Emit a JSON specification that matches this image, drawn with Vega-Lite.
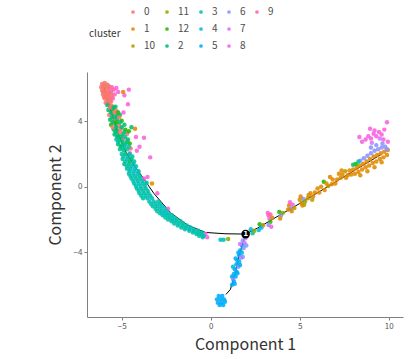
{
  "$schema": "https://vega.github.io/schema/vega-lite/v6.json",
  "width": 316,
  "height": 245,
  "autosize": {"type": "none"},
  "padding": {"left": 87, "top": 72, "right": 14, "bottom": 42},
  "background": "white",
  "config": {
    "view": {"stroke": null},
    "font": "Noto Sans CJK JP",
    "axis": {
      "grid": false,
      "domainColor": "#808080",
      "domainWidth": 1,
      "tickColor": "#808080",
      "tickSize": 3,
      "labelColor": "#555555",
      "labelFontSize": 8,
      "labelFont": "Noto Sans CJK JP",
      "titleFont": "Noto Sans CJK JP",
      "titleFontSize": 16,
      "titleFontWeight": "normal",
      "titleColor": "#333333"
    },
    "legend": {
      "labelFont": "Noto Sans CJK JP",
      "titleFont": "Noto Sans CJK JP"
    }
  },
  "datasets": {
    "tree": [
      {"x": -6.0, "y": 6.1, "seg": "a", "o": 1},
      {"x": -5.65, "y": 4.8, "seg": "a", "o": 2},
      {"x": -5.25, "y": 3.4, "seg": "a", "o": 3},
      {"x": -4.75, "y": 2.1, "seg": "a", "o": 4},
      {"x": -4.3, "y": 1.3, "seg": "a", "o": 5},
      {"x": -3.9, "y": 0.7, "seg": "a", "o": 6},
      {"x": -3.2, "y": -0.4, "seg": "a", "o": 7},
      {"x": -2.25, "y": -1.6, "seg": "a", "o": 8},
      {"x": -1.3, "y": -2.35, "seg": "a", "o": 9},
      {"x": -0.3, "y": -2.8, "seg": "a", "o": 10},
      {"x": 0.8, "y": -2.88, "seg": "a", "o": 11},
      {"x": 1.96, "y": -2.9, "seg": "a", "o": 12},
      {"x": 1.96, "y": -2.9, "seg": "b", "o": 1},
      {"x": 2.63, "y": -2.53, "seg": "b", "o": 2},
      {"x": 5.04, "y": -1.0, "seg": "b", "o": 3},
      {"x": 7.83, "y": 0.84, "seg": "b", "o": 4},
      {"x": 9.6, "y": 2.0, "seg": "b", "o": 5},
      {"x": 1.96, "y": -2.9, "seg": "c", "o": 1},
      {"x": 1.6, "y": -4.2, "seg": "c", "o": 2},
      {"x": 1.3, "y": -5.6, "seg": "c", "o": 3},
      {"x": 1.1, "y": -6.3, "seg": "c", "o": 4},
      {"x": 0.85, "y": -6.6, "seg": "c", "o": 5}
    ],
    "node": [{"x": 1.96, "y": -2.9, "label": "1"}],
    "cells": [
      {"x": -6.1, "y": 6.3, "cluster": "0"}, {"x": -5.95, "y": 6.35, "cluster": "0"}, {"x": -5.8, "y": 6.25, "cluster": "0"},
      {"x": -6.15, "y": 6.1, "cluster": "0"}, {"x": -6.0, "y": 6.1, "cluster": "0"}, {"x": -5.85, "y": 6.05, "cluster": "0"},
      {"x": -5.7, "y": 6.0, "cluster": "0"}, {"x": -6.1, "y": 5.9, "cluster": "0"}, {"x": -5.95, "y": 5.85, "cluster": "0"},
      {"x": -5.8, "y": 5.8, "cluster": "0"}, {"x": -6.05, "y": 5.65, "cluster": "0"}, {"x": -5.9, "y": 5.6, "cluster": "0"},
      {"x": -5.75, "y": 5.55, "cluster": "0"}, {"x": -5.6, "y": 5.7, "cluster": "0"}, {"x": -5.95, "y": 5.4, "cluster": "0"},
      {"x": -5.8, "y": 5.35, "cluster": "0"}, {"x": -5.65, "y": 5.3, "cluster": "0"}, {"x": -5.9, "y": 5.15, "cluster": "0"},
      {"x": -5.7, "y": 5.05, "cluster": "0"}, {"x": -5.55, "y": 5.5, "cluster": "0"},
      {"x": -6.0, "y": 6.2, "cluster": "0"}, {"x": -5.85, "y": 6.15, "cluster": "0"}, {"x": -5.7, "y": 6.15, "cluster": "0"},
      {"x": -6.05, "y": 5.8, "cluster": "0"}, {"x": -5.85, "y": 5.7, "cluster": "0"}, {"x": -5.7, "y": 5.75, "cluster": "0"},
      {"x": -6.0, "y": 5.5, "cluster": "0"}, {"x": -5.85, "y": 5.5, "cluster": "0"}, {"x": -5.7, "y": 5.45, "cluster": "0"},
      {"x": -5.8, "y": 5.2, "cluster": "0"}, {"x": -5.6, "y": 5.2, "cluster": "0"},
      {"x": -5.55, "y": 6.1, "cluster": "9"}, {"x": -5.45, "y": 5.95, "cluster": "9"}, {"x": -5.6, "y": 5.85, "cluster": "9"},
      {"x": -5.5, "y": 5.4, "cluster": "9"}, {"x": -5.4, "y": 5.65, "cluster": "9"},
      {"x": -4.6, "y": 5.95, "cluster": "8"}, {"x": -4.85, "y": 5.6, "cluster": "8"}, {"x": -4.65, "y": 5.05, "cluster": "8"},
      {"x": -4.9, "y": 4.55, "cluster": "8"}, {"x": -4.2, "y": 3.05, "cluster": "8"}, {"x": -3.75, "y": 3.0, "cluster": "8"},
      {"x": -4.0, "y": 2.45, "cluster": "8"}, {"x": -4.15, "y": 2.2, "cluster": "8"}, {"x": -3.4, "y": 1.8, "cluster": "8"},
      {"x": -4.55, "y": 2.05, "cluster": "8"}, {"x": -5.3, "y": 6.05, "cluster": "8"}, {"x": -5.2, "y": 5.8, "cluster": "8"},
      {"x": -4.92, "y": 5.8, "cluster": "1"},
      {"x": -5.8, "y": 5.0, "cluster": "2"}, {"x": -5.55, "y": 4.95, "cluster": "0"}, {"x": -5.35, "y": 4.9, "cluster": "2"},
      {"x": -5.75, "y": 4.7, "cluster": "2"}, {"x": -5.5, "y": 4.75, "cluster": "12"}, {"x": -5.3, "y": 4.65, "cluster": "0"},
      {"x": -5.7, "y": 4.4, "cluster": "0"}, {"x": -5.5, "y": 4.45, "cluster": "2"}, {"x": -5.3, "y": 4.35, "cluster": "2"},
      {"x": -5.1, "y": 4.4, "cluster": "2"}, {"x": -5.65, "y": 4.1, "cluster": "2"}, {"x": -5.45, "y": 4.05, "cluster": "0"},
      {"x": -5.25, "y": 4.15, "cluster": "2"}, {"x": -5.0, "y": 4.05, "cluster": "12"}, {"x": -5.6, "y": 3.8, "cluster": "12"},
      {"x": -5.35, "y": 3.85, "cluster": "2"}, {"x": -5.15, "y": 3.75, "cluster": "0"}, {"x": -4.85, "y": 3.8, "cluster": "2"},
      {"x": -5.45, "y": 3.5, "cluster": "2"}, {"x": -5.25, "y": 3.45, "cluster": "2"}, {"x": -5.05, "y": 3.55, "cluster": "0"},
      {"x": -4.8, "y": 3.5, "cluster": "12"}, {"x": -5.4, "y": 3.2, "cluster": "2"}, {"x": -5.2, "y": 3.15, "cluster": "3"},
      {"x": -4.95, "y": 3.2, "cluster": "2"}, {"x": -4.7, "y": 3.25, "cluster": "0"}, {"x": -5.3, "y": 2.9, "cluster": "3"},
      {"x": -5.1, "y": 2.85, "cluster": "2"}, {"x": -4.9, "y": 2.95, "cluster": "0"}, {"x": -4.65, "y": 2.9, "cluster": "2"},
      {"x": -5.2, "y": 2.6, "cluster": "2"}, {"x": -5.0, "y": 2.55, "cluster": "3"}, {"x": -4.8, "y": 2.6, "cluster": "2"},
      {"x": -4.55, "y": 2.65, "cluster": "12"}, {"x": -5.1, "y": 2.3, "cluster": "3"}, {"x": -4.9, "y": 2.25, "cluster": "2"},
      {"x": -4.7, "y": 2.3, "cluster": "3"}, {"x": -4.5, "y": 2.35, "cluster": "0"},
      {"x": -5.65, "y": 4.85, "cluster": "0"}, {"x": -5.45, "y": 4.85, "cluster": "2"},
      {"x": -5.6, "y": 4.55, "cluster": "2"}, {"x": -5.4, "y": 4.55, "cluster": "0"}, {"x": -5.2, "y": 4.55, "cluster": "12"},
      {"x": -5.55, "y": 4.25, "cluster": "2"}, {"x": -5.35, "y": 4.25, "cluster": "2"}, {"x": -5.15, "y": 4.25, "cluster": "0"},
      {"x": -5.5, "y": 3.95, "cluster": "2"}, {"x": -5.3, "y": 3.95, "cluster": "12"}, {"x": -5.1, "y": 3.95, "cluster": "2"},
      {"x": -5.5, "y": 3.65, "cluster": "0"}, {"x": -5.3, "y": 3.65, "cluster": "2"}, {"x": -5.0, "y": 3.65, "cluster": "2"},
      {"x": -5.35, "y": 3.35, "cluster": "2"}, {"x": -5.1, "y": 3.35, "cluster": "0"}, {"x": -4.85, "y": 3.35, "cluster": "2"},
      {"x": -5.25, "y": 3.05, "cluster": "2"}, {"x": -5.05, "y": 3.05, "cluster": "2"}, {"x": -4.8, "y": 3.05, "cluster": "3"},
      {"x": -5.2, "y": 2.75, "cluster": "3"}, {"x": -4.95, "y": 2.75, "cluster": "2"}, {"x": -4.7, "y": 2.75, "cluster": "2"},
      {"x": -5.05, "y": 2.45, "cluster": "2"}, {"x": -4.85, "y": 2.45, "cluster": "3"}, {"x": -4.6, "y": 2.45, "cluster": "3"},
      {"x": -4.45, "y": 3.65, "cluster": "2"}, {"x": -4.25, "y": 3.55, "cluster": "1"}, {"x": -4.6, "y": 3.4, "cluster": "12"},
      {"x": -5.0, "y": 2.0, "cluster": "3"}, {"x": -4.8, "y": 2.0, "cluster": "2"}, {"x": -4.55, "y": 2.0, "cluster": "3"},
      {"x": -4.95, "y": 1.7, "cluster": "3"}, {"x": -4.7, "y": 1.7, "cluster": "3"}, {"x": -4.45, "y": 1.7, "cluster": "2"},
      {"x": -4.85, "y": 1.4, "cluster": "2"}, {"x": -4.6, "y": 1.4, "cluster": "3"}, {"x": -4.35, "y": 1.4, "cluster": "3"},
      {"x": -4.7, "y": 1.1, "cluster": "3"}, {"x": -4.5, "y": 1.1, "cluster": "3"}, {"x": -4.25, "y": 1.1, "cluster": "4"},
      {"x": -4.6, "y": 0.8, "cluster": "3"}, {"x": -4.35, "y": 0.8, "cluster": "3"}, {"x": -4.1, "y": 0.8, "cluster": "3"},
      {"x": -4.45, "y": 0.5, "cluster": "3"}, {"x": -4.2, "y": 0.5, "cluster": "3"}, {"x": -3.95, "y": 0.5, "cluster": "3"},
      {"x": -3.75, "y": 0.5, "cluster": "8"}, {"x": -4.3, "y": 0.2, "cluster": "3"}, {"x": -4.05, "y": 0.2, "cluster": "4"},
      {"x": -3.8, "y": 0.2, "cluster": "3"}, {"x": -4.15, "y": -0.1, "cluster": "3"}, {"x": -3.9, "y": -0.1, "cluster": "3"},
      {"x": -3.65, "y": -0.1, "cluster": "3"}, {"x": -4.0, "y": -0.4, "cluster": "3"}, {"x": -3.75, "y": -0.4, "cluster": "3"},
      {"x": -3.5, "y": -0.4, "cluster": "3"}, {"x": -3.8, "y": -0.7, "cluster": "3"}, {"x": -3.55, "y": -0.7, "cluster": "3"},
      {"x": -3.3, "y": -0.7, "cluster": "4"},
      {"x": -4.9, "y": 1.85, "cluster": "3"}, {"x": -4.65, "y": 1.85, "cluster": "3"}, {"x": -4.4, "y": 1.85, "cluster": "3"},
      {"x": -4.8, "y": 1.55, "cluster": "3"}, {"x": -4.55, "y": 1.55, "cluster": "2"}, {"x": -4.3, "y": 1.55, "cluster": "3"},
      {"x": -4.7, "y": 1.25, "cluster": "3"}, {"x": -4.45, "y": 1.25, "cluster": "3"}, {"x": -4.2, "y": 1.25, "cluster": "3"},
      {"x": -4.55, "y": 0.95, "cluster": "3"}, {"x": -4.3, "y": 0.95, "cluster": "4"}, {"x": -4.05, "y": 0.95, "cluster": "3"},
      {"x": -4.5, "y": 0.65, "cluster": "3"}, {"x": -4.25, "y": 0.65, "cluster": "3"}, {"x": -4.0, "y": 0.65, "cluster": "3"},
      {"x": -4.35, "y": 0.35, "cluster": "3"}, {"x": -4.1, "y": 0.35, "cluster": "3"}, {"x": -3.85, "y": 0.35, "cluster": "3"},
      {"x": -4.2, "y": 0.05, "cluster": "3"}, {"x": -3.95, "y": 0.05, "cluster": "3"}, {"x": -3.7, "y": 0.05, "cluster": "3"},
      {"x": -4.05, "y": -0.25, "cluster": "3"}, {"x": -3.8, "y": -0.25, "cluster": "3"}, {"x": -3.55, "y": -0.25, "cluster": "3"},
      {"x": -3.9, "y": -0.55, "cluster": "3"}, {"x": -3.65, "y": -0.55, "cluster": "3"}, {"x": -3.4, "y": -0.55, "cluster": "3"},
      {"x": -3.3, "y": 0.2, "cluster": "1"}, {"x": -3.0, "y": -0.4, "cluster": "8"}, {"x": -2.4, "y": -1.35, "cluster": "8"},
      {"x": -3.55, "y": 0.6, "cluster": "8"}, {"x": -3.6, "y": 0.25, "cluster": "3"},
      {"x": -3.45, "y": -0.9, "cluster": "3"}, {"x": -3.2, "y": -0.9, "cluster": "3"}, {"x": -2.95, "y": -0.9, "cluster": "3"},
      {"x": -3.25, "y": -1.2, "cluster": "3"}, {"x": -3.0, "y": -1.2, "cluster": "3"}, {"x": -2.75, "y": -1.2, "cluster": "4"},
      {"x": -3.0, "y": -1.5, "cluster": "3"}, {"x": -2.75, "y": -1.5, "cluster": "3"}, {"x": -2.5, "y": -1.5, "cluster": "3"},
      {"x": -2.7, "y": -1.75, "cluster": "3"}, {"x": -2.45, "y": -1.75, "cluster": "3"}, {"x": -2.2, "y": -1.75, "cluster": "3"},
      {"x": -2.4, "y": -2.0, "cluster": "3"}, {"x": -2.15, "y": -2.0, "cluster": "4"}, {"x": -1.9, "y": -2.0, "cluster": "3"},
      {"x": -2.05, "y": -2.25, "cluster": "3"}, {"x": -1.8, "y": -2.25, "cluster": "3"}, {"x": -1.55, "y": -2.25, "cluster": "3"},
      {"x": -1.65, "y": -2.5, "cluster": "3"}, {"x": -1.4, "y": -2.5, "cluster": "3"}, {"x": -1.15, "y": -2.5, "cluster": "4"},
      {"x": -1.2, "y": -2.7, "cluster": "3"}, {"x": -0.95, "y": -2.7, "cluster": "3"}, {"x": -0.7, "y": -2.7, "cluster": "3"},
      {"x": -0.8, "y": -2.9, "cluster": "3"}, {"x": -0.55, "y": -2.9, "cluster": "3"}, {"x": -0.3, "y": -2.9, "cluster": "8"},
      {"x": -0.45, "y": -3.1, "cluster": "3"}, {"x": -0.2, "y": -3.1, "cluster": "8"},
      {"x": -3.35, "y": -1.05, "cluster": "3"}, {"x": -3.1, "y": -1.05, "cluster": "3"}, {"x": -2.85, "y": -1.05, "cluster": "3"},
      {"x": -3.1, "y": -1.35, "cluster": "3"}, {"x": -2.85, "y": -1.35, "cluster": "3"}, {"x": -2.6, "y": -1.35, "cluster": "3"},
      {"x": -2.85, "y": -1.62, "cluster": "3"}, {"x": -2.6, "y": -1.62, "cluster": "4"}, {"x": -2.35, "y": -1.62, "cluster": "3"},
      {"x": -2.55, "y": -1.88, "cluster": "3"}, {"x": -2.3, "y": -1.88, "cluster": "3"}, {"x": -2.05, "y": -1.88, "cluster": "3"},
      {"x": -2.2, "y": -2.12, "cluster": "3"}, {"x": -1.95, "y": -2.12, "cluster": "3"}, {"x": -1.7, "y": -2.12, "cluster": "3"},
      {"x": -1.85, "y": -2.38, "cluster": "3"}, {"x": -1.6, "y": -2.38, "cluster": "3"}, {"x": -1.35, "y": -2.38, "cluster": "3"},
      {"x": -1.45, "y": -2.6, "cluster": "3"}, {"x": -1.2, "y": -2.6, "cluster": "3"}, {"x": -0.95, "y": -2.6, "cluster": "3"},
      {"x": -1.0, "y": -2.8, "cluster": "3"}, {"x": -0.75, "y": -2.8, "cluster": "3"}, {"x": -0.5, "y": -2.8, "cluster": "3"},
      {"x": -0.65, "y": -3.0, "cluster": "3"}, {"x": -0.4, "y": -3.0, "cluster": "3"},
      {"x": 0.55, "y": -3.25, "cluster": "4"}, {"x": 0.72, "y": -3.25, "cluster": "3"}, {"x": 0.98, "y": -3.2, "cluster": "11"},
      {"x": 1.95, "y": -3.15, "cluster": "7"}, {"x": 1.8, "y": -3.3, "cluster": "6"}, {"x": 1.9, "y": -3.45, "cluster": "7"},
      {"x": 1.75, "y": -3.6, "cluster": "5"}, {"x": 1.85, "y": -3.75, "cluster": "6"}, {"x": 1.65, "y": -3.9, "cluster": "5"},
      {"x": 1.75, "y": -4.05, "cluster": "4"}, {"x": 1.6, "y": -4.2, "cluster": "5"}, {"x": 1.7, "y": -4.35, "cluster": "7"},
      {"x": 1.5, "y": -4.5, "cluster": "5"}, {"x": 1.6, "y": -4.6, "cluster": "4"}, {"x": 1.45, "y": -4.75, "cluster": "5"},
      {"x": 1.55, "y": -4.9, "cluster": "6"}, {"x": 1.35, "y": -5.05, "cluster": "5"}, {"x": 1.45, "y": -5.2, "cluster": "5"},
      {"x": 1.3, "y": -5.35, "cluster": "4"}, {"x": 1.4, "y": -5.5, "cluster": "5"}, {"x": 1.25, "y": -5.65, "cluster": "7"},
      {"x": 1.3, "y": -5.8, "cluster": "5"}, {"x": 1.2, "y": -6.0, "cluster": "5"},
      {"x": 1.65, "y": -3.5, "cluster": "7"}, {"x": 2.0, "y": -3.6, "cluster": "6"}, {"x": 1.55, "y": -4.05, "cluster": "5"},
      {"x": 1.8, "y": -4.3, "cluster": "6"}, {"x": 1.4, "y": -4.4, "cluster": "5"}, {"x": 1.65, "y": -4.8, "cluster": "5"},
      {"x": 1.25, "y": -4.9, "cluster": "4"}, {"x": 1.5, "y": -5.3, "cluster": "5"}, {"x": 1.2, "y": -5.5, "cluster": "5"},
      {"x": 1.35, "y": -5.95, "cluster": "5"},
      {"x": 0.45, "y": -6.7, "cluster": "5"}, {"x": 0.65, "y": -6.7, "cluster": "5"}, {"x": 0.35, "y": -6.9, "cluster": "5"},
      {"x": 0.55, "y": -6.9, "cluster": "5"}, {"x": 0.75, "y": -6.9, "cluster": "5"}, {"x": 0.4, "y": -7.1, "cluster": "5"},
      {"x": 0.6, "y": -7.1, "cluster": "5"}, {"x": 0.8, "y": -7.05, "cluster": "5"}, {"x": 0.5, "y": -7.25, "cluster": "5"},
      {"x": 0.7, "y": -7.25, "cluster": "5"},
      {"x": 2.25, "y": -2.6, "cluster": "4"}, {"x": 2.35, "y": -2.85, "cluster": "3"}, {"x": 2.45, "y": -2.7, "cluster": "11"},
      {"x": 2.75, "y": -2.3, "cluster": "12"}, {"x": 2.85, "y": -2.5, "cluster": "5"}, {"x": 2.7, "y": -2.65, "cluster": "4"},
      {"x": 2.95, "y": -2.35, "cluster": "10"},
      {"x": 3.25, "y": -1.75, "cluster": "9"}, {"x": 3.3, "y": -1.95, "cluster": "8"}, {"x": 3.35, "y": -2.15, "cluster": "12"},
      {"x": 3.25, "y": -2.35, "cluster": "6"}, {"x": 3.45, "y": -1.9, "cluster": "1"}, {"x": 3.4, "y": -2.45, "cluster": "8"},
      {"x": 3.2, "y": -1.6, "cluster": "8"}, {"x": 3.35, "y": -1.7, "cluster": "9"},
      {"x": 3.85, "y": -1.55, "cluster": "12"}, {"x": 3.95, "y": -1.75, "cluster": "6"}, {"x": 4.05, "y": -1.6, "cluster": "11"},
      {"x": 3.9, "y": -1.95, "cluster": "1"},
      {"x": 4.4, "y": -1.15, "cluster": "1"}, {"x": 4.5, "y": -1.35, "cluster": "6"}, {"x": 4.6, "y": -1.1, "cluster": "8"},
      {"x": 4.55, "y": -1.5, "cluster": "1"}, {"x": 4.7, "y": -1.3, "cluster": "10"},
      {"x": 4.45, "y": -0.95, "cluster": "8"}, {"x": 4.35, "y": -1.4, "cluster": "1"},
      {"x": 5.0, "y": -0.8, "cluster": "10"}, {"x": 5.1, "y": -1.0, "cluster": "1"}, {"x": 5.2, "y": -0.75, "cluster": "6"},
      {"x": 5.15, "y": -1.15, "cluster": "1"}, {"x": 5.3, "y": -0.9, "cluster": "11"},
      {"x": 5.05, "y": -0.6, "cluster": "1"}, {"x": 5.25, "y": -1.1, "cluster": "10"},
      {"x": 5.45, "y": -0.7, "cluster": "1"}, {"x": 5.5, "y": -0.5, "cluster": "10"},
      {"x": 5.6, "y": -0.4, "cluster": "1"}, {"x": 5.75, "y": -0.6, "cluster": "1"}, {"x": 5.85, "y": -0.35, "cluster": "1"},
      {"x": 5.7, "y": -0.8, "cluster": "10"}, {"x": 6.0, "y": -0.1, "cluster": "1"},
      {"x": 6.2, "y": 0.0, "cluster": "1"}, {"x": 6.35, "y": 0.3, "cluster": "12"}, {"x": 6.4, "y": -0.2, "cluster": "1"},
      {"x": 6.1, "y": -0.35, "cluster": "1"}, {"x": 6.6, "y": 0.05, "cluster": "10"}, {"x": 6.5, "y": 0.2, "cluster": "1"},
      {"x": 6.85, "y": 0.45, "cluster": "1"}, {"x": 7.0, "y": 0.2, "cluster": "1"}, {"x": 7.1, "y": 0.45, "cluster": "1"},
      {"x": 6.7, "y": 0.6, "cluster": "1"}, {"x": 7.2, "y": 0.8, "cluster": "1"}, {"x": 6.8, "y": 0.15, "cluster": "1"},
      {"x": 7.4, "y": 0.75, "cluster": "1"}, {"x": 7.6, "y": 0.55, "cluster": "1"}, {"x": 7.55, "y": 0.95, "cluster": "10"},
      {"x": 7.7, "y": 0.7, "cluster": "1"}, {"x": 7.3, "y": 0.55, "cluster": "1"}, {"x": 7.8, "y": 1.0, "cluster": "1"},
      {"x": 7.35, "y": 1.0, "cluster": "1"},
      {"x": 7.9, "y": 0.75, "cluster": "1"}, {"x": 8.0, "y": 1.05, "cluster": "1"}, {"x": 8.1, "y": 0.8, "cluster": "1"},
      {"x": 8.2, "y": 1.15, "cluster": "1"}, {"x": 8.3, "y": 0.9, "cluster": "1"}, {"x": 8.35, "y": 1.3, "cluster": "1"},
      {"x": 8.5, "y": 1.05, "cluster": "1"}, {"x": 8.55, "y": 1.4, "cluster": "1"}, {"x": 8.7, "y": 1.2, "cluster": "1"},
      {"x": 8.75, "y": 1.55, "cluster": "1"}, {"x": 8.9, "y": 1.3, "cluster": "1"}, {"x": 8.95, "y": 1.7, "cluster": "1"},
      {"x": 9.1, "y": 1.45, "cluster": "1"}, {"x": 9.15, "y": 1.85, "cluster": "1"}, {"x": 9.3, "y": 1.55, "cluster": "1"},
      {"x": 9.35, "y": 1.95, "cluster": "1"}, {"x": 9.5, "y": 1.7, "cluster": "1"}, {"x": 9.55, "y": 2.05, "cluster": "1"},
      {"x": 9.7, "y": 1.8, "cluster": "1"}, {"x": 9.75, "y": 2.15, "cluster": "1"}, {"x": 9.9, "y": 1.95, "cluster": "1"},
      {"x": 9.95, "y": 2.25, "cluster": "1"}, {"x": 8.4, "y": 0.7, "cluster": "1"}, {"x": 8.8, "y": 0.95, "cluster": "1"},
      {"x": 9.2, "y": 1.2, "cluster": "1"}, {"x": 9.6, "y": 1.5, "cluster": "1"},
      {"x": 8.6, "y": 1.75, "cluster": "6"}, {"x": 8.8, "y": 1.9, "cluster": "6"}, {"x": 9.0, "y": 2.05, "cluster": "6"},
      {"x": 9.2, "y": 2.2, "cluster": "6"}, {"x": 9.4, "y": 2.3, "cluster": "6"}, {"x": 9.6, "y": 2.4, "cluster": "6"},
      {"x": 9.8, "y": 2.45, "cluster": "6"}, {"x": 9.0, "y": 2.4, "cluster": "6"}, {"x": 9.3, "y": 2.55, "cluster": "6"},
      {"x": 9.65, "y": 2.65, "cluster": "6"}, {"x": 8.4, "y": 1.6, "cluster": "6"}, {"x": 9.9, "y": 2.3, "cluster": "6"},
      {"x": 8.15, "y": 1.4, "cluster": "12"}, {"x": 8.3, "y": 1.55, "cluster": "3"}, {"x": 8.0, "y": 1.35, "cluster": "2"},
      {"x": 8.7, "y": 2.9, "cluster": "8"}, {"x": 8.85, "y": 3.1, "cluster": "8"}, {"x": 9.0, "y": 2.95, "cluster": "8"},
      {"x": 9.15, "y": 3.25, "cluster": "8"}, {"x": 9.3, "y": 3.1, "cluster": "8"}, {"x": 9.45, "y": 3.35, "cluster": "8"},
      {"x": 9.6, "y": 3.2, "cluster": "8"}, {"x": 9.2, "y": 3.45, "cluster": "8"}, {"x": 8.5, "y": 2.75, "cluster": "8"},
      {"x": 9.75, "y": 3.5, "cluster": "8"}, {"x": 9.9, "y": 3.95, "cluster": "8"}, {"x": 9.95, "y": 2.75, "cluster": "8"},
      {"x": 8.35, "y": 3.05, "cluster": "8"}, {"x": 9.7, "y": 2.9, "cluster": "8"}, {"x": 8.95, "y": 3.55, "cluster": "8"},
      {"x": 9.5, "y": 2.95, "cluster": "7"}, {"x": 9.05, "y": 2.7, "cluster": "7"}
    ]
  },
  "layer": [
    {
      "data": {"name": "tree"},
      "mark": {"type": "line", "color": "black", "strokeWidth": 1},
      "encoding": {
        "x": {"field": "x", "type": "quantitative", "scale": {"domain": [-6.95, 10.8], "nice": false, "zero": false},
              "axis": {"title": "Component 1", "values": [-5, 0, 5, 10], "titlePadding": 6, "labelPadding": 2}},
        "y": {"field": "y", "type": "quantitative", "scale": {"domain": [-7.98, 7.03], "nice": false, "zero": false},
              "axis": {"title": "Component 2", "values": [-4, 0, 4], "titlePadding": 10, "labelPadding": 2}},
        "detail": {"field": "seg"},
        "order": {"field": "o"}
      }
    },
    {
      "data": {"name": "cells"},
      "mark": {"type": "circle", "size": 20, "opacity": 0.88},
      "encoding": {
        "x": {"field": "x", "type": "quantitative"},
        "y": {"field": "y", "type": "quantitative"},
        "color": {
          "field": "cluster", "type": "nominal",
          "scale": {
            "domain": ["0", "11", "3", "6", "9", "1", "12", "4", "7", "_", "10", "2", "5", "8"],
            "range": ["#F8766D", "#8CAB00", "#00C1AB", "#8B93FF", "#FF65AC", "#E18A00", "#24B700", "#00BBDA", "#D575FE", "#ffffff", "#BE9C00", "#00BE70", "#00ACFC", "#F962DD"]
          },
          "legend": {
            "title": "cluster",
            "orient": "none",
            "legendX": 2,
            "legendY": -65,
            "columns": 5,
            "direction": "horizontal",
            "titleOrient": "left",
            "titleBaseline": "top",
            "titleFontSize": 10,
            "titleFontWeight": "normal",
            "titleColor": "#333333",
            "titlePadding": 7,
            "labelFontSize": 10,
            "labelColor": "#4d4d4d",
            "labelExpr": "datum.label == '_' ? '' : datum.label",
            "symbolType": "circle",
            "symbolSize": 14,
            "symbolStrokeWidth": 0,
            "columnPadding": 6,
            "rowPadding": 7,
            "labelOffset": 6
          }
        }
      }
    },
    {
      "data": {"name": "node"},
      "mark": {"type": "circle", "size": 75, "color": "black", "opacity": 1},
      "encoding": {
        "x": {"field": "x", "type": "quantitative"},
        "y": {"field": "y", "type": "quantitative"}
      }
    },
    {
      "data": {"name": "node"},
      "mark": {"type": "text", "color": "white", "fontSize": 7, "fontWeight": "bold", "font": "DejaVu Sans"},
      "encoding": {
        "x": {"field": "x", "type": "quantitative"},
        "y": {"field": "y", "type": "quantitative"},
        "text": {"field": "label"}
      }
    }
  ]
}
